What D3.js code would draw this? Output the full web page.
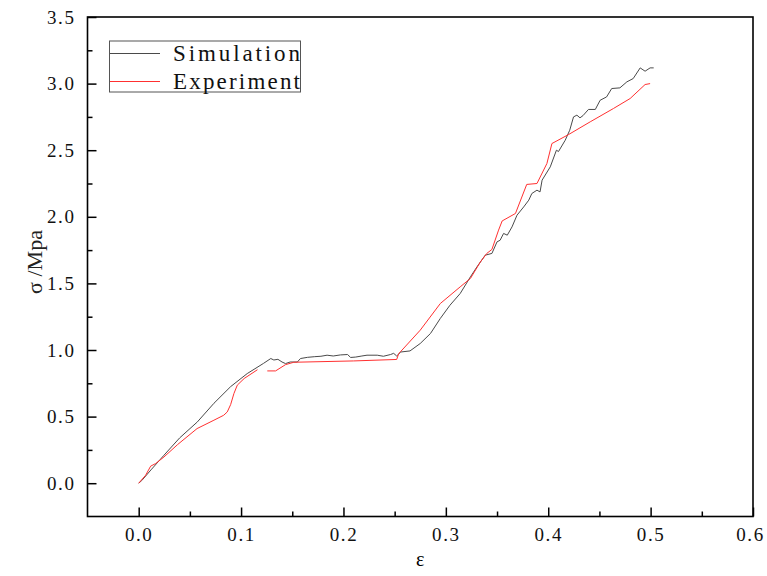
<!DOCTYPE html>
<html>
<head>
<meta charset="utf-8">
<script src="https://cdn.jsdelivr.net/npm/d3@7"></script>
<style>
  body { margin: 0; background: #fff; }
  svg { display: block; }
  .tick text { font-family: "Liberation Serif", serif; font-size: 19px; fill: #111; letter-spacing: 1.6px; }
</style>
</head>
<body>
<svg id="chart" width="767" height="576"></svg>
<script>
// Simulation curve (black)
const simX = [0, 0.003, 0.012, 0.0247, 0.04, 0.0573, 0.0735, 0.0898, 0.106, 0.122, 0.129, 0.132, 0.136, 0.14, 0.1434, 0.148, 0.155, 0.158, 0.165, 0.172, 0.178, 0.184, 0.19, 0.197, 0.204, 0.207, 0.212, 0.218, 0.223, 0.233, 0.239, 0.246, 0.249, 0.252, 0.256, 0.265, 0.275, 0.285, 0.2946, 0.304, 0.314, 0.324, 0.3304, 0.3385, 0.345, 0.35, 0.353, 0.3564, 0.36, 0.3646, 0.3695, 0.376, 0.381, 0.384, 0.389, 0.392, 0.394, 0.402, 0.408, 0.41, 0.4166, 0.421, 0.4247, 0.428, 0.431, 0.434, 0.4393, 0.446, 0.4507, 0.457, 0.462, 0.47, 0.4768, 0.483, 0.4898, 0.4946, 0.4995, 0.503];
const simY = [0, 0.02, 0.1, 0.21, 0.34, 0.46, 0.6, 0.725, 0.823, 0.9, 0.936, 0.925, 0.93, 0.91, 0.898, 0.91, 0.91, 0.936, 0.945, 0.95, 0.953, 0.961, 0.955, 0.963, 0.966, 0.944, 0.947, 0.955, 0.961, 0.961, 0.953, 0.966, 0.975, 0.955, 0.985, 0.993, 1.049, 1.124, 1.237, 1.336, 1.424, 1.549, 1.624, 1.712, 1.725, 1.812, 1.824, 1.875, 1.862, 1.924, 2.012, 2.074, 2.125, 2.175, 2.2, 2.187, 2.275, 2.375, 2.5, 2.49, 2.575, 2.65, 2.75, 2.763, 2.743, 2.76, 2.806, 2.806, 2.875, 2.9, 2.963, 2.968, 3.013, 3.038, 3.118, 3.093, 3.118, 3.118];

// Experiment curve (red), null = gap in the trace
const expX = [0, 0.0068, 0.0117, 0.0166, 0.0247, 0.038, 0.057, 0.0735, 0.083, 0.0865, 0.0898, 0.093, 0.0963, 0.103, 0.116, 0.12, 0.1256, 0.1337, 0.1434, 0.1515, 0.21, 0.252, 0.254, 0.2556, 0.275, 0.2946, 0.314, 0.324, 0.3337, 0.34, 0.345, 0.3515, 0.355, 0.368, 0.379, 0.389, 0.3987, 0.4036, 0.42, 0.441, 0.4637, 0.48, 0.4946, 0.4995];
const expY = [0, 0.06, 0.128, 0.148, 0.197, 0.29, 0.41, 0.473, 0.51, 0.535, 0.59, 0.673, 0.736, 0.786, 0.852, null, 0.843, 0.843, 0.89, 0.908, 0.918, 0.929, 0.974, 0.986, 1.149, 1.349, 1.474, 1.537, 1.661, 1.725, 1.755, 1.9, 1.969, 2.025, 2.243, 2.25, 2.4, 2.55, 2.618, 2.713, 2.813, 2.888, 2.993, 3.0];

const xTicks = [0, 0.1, 0.2, 0.3, 0.4, 0.5, 0.6];
const yTicks = [0, 0.5, 1.0, 1.5, 2.0, 2.5, 3.0, 3.5];
const seriesNames = ["Simulation", "Experiment"];
const seriesColors = ["#4a4a4a", "#ff3030"];

const width = 767, height = 576;
const margin = { left: 87.5, right: 14, top: 17, bottom: 59.5 };

const svg = d3.select("#chart");

const x = d3.scaleLinear().domain([-0.05, 0.6]).range([margin.left, width - margin.right]);
const y = d3.scaleLinear().domain([-0.25, 3.5]).range([height - margin.bottom, margin.top]);

// minor ticks (inward, short)
const xMinor = [0.05, 0.15, 0.25, 0.35, 0.45, 0.55];
const yMinor = [0.25, 0.75, 1.25, 1.75, 2.25, 2.75, 3.25];

svg.append("g")
    .attr("transform", `translate(0,${height - margin.bottom})`)
    .call(d3.axisBottom(x).tickValues(xMinor).tickSize(-5).tickFormat(""))
    .call(g => g.select(".domain").remove());
svg.append("g")
    .attr("transform", `translate(${margin.left},0)`)
    .call(d3.axisLeft(y).tickValues(yMinor).tickSize(-5).tickFormat(""))
    .call(g => g.select(".domain").remove());

// major ticks
const xAxis = svg.append("g")
    .attr("transform", `translate(0,${height - margin.bottom})`)
    .call(d3.axisBottom(x).tickValues(xTicks).tickSize(-9).tickPadding(11).tickFormat(d3.format(".1f")))
    .call(g => g.select(".domain").remove());
// last label sits at the very edge of the page: nudge it in a little
xAxis.selectAll(".tick text").filter(d => d === 0.6).attr("dx", -3);

svg.append("g")
    .attr("transform", `translate(${margin.left},0)`)
    .call(d3.axisLeft(y).tickValues(yTicks).tickSize(-9).tickPadding(12).tickFormat(d3.format(".1f")))
    .call(g => g.select(".domain").remove());

svg.selectAll(".tick line").attr("stroke", "#000").attr("stroke-width", 1.5);

// frame
svg.append("rect")
    .attr("x", margin.left).attr("y", margin.top)
    .attr("width", width - margin.left - margin.right)
    .attr("height", height - margin.top - margin.bottom)
    .attr("fill", "none").attr("stroke", "#000").attr("stroke-width", 1.6);

// curves
const line = d3.line()
    .defined(d => d[1] !== null)
    .x(d => x(d[0]))
    .y(d => y(d[1]));

const simData = simX.map((v, i) => [v, simY[i]]);
const expData = expX.map((v, i) => [v, expY[i]]);

svg.append("path").datum(simData)
    .attr("d", line).attr("fill", "none")
    .attr("stroke", seriesColors[0]).attr("stroke-width", 1);
svg.append("path").datum(expData)
    .attr("d", line).attr("fill", "none")
    .attr("stroke", seriesColors[1]).attr("stroke-width", 1);

// axis titles
svg.append("text")
    .attr("x", (margin.left + width - margin.right) / 2).attr("y", 566)
    .attr("text-anchor", "middle")
    .style("font-family", "Liberation Serif, serif").style("font-size", "20px")
    .text("ε");
svg.append("text")
    .attr("transform", "translate(42,262) rotate(-90)")
    .attr("text-anchor", "middle")
    .style("font-family", "Liberation Serif, serif").style("font-size", "22px")
    .style("fill", "#222")
    .text("σ /Mpa");

// legend
const legend = svg.append("g");
legend.append("rect")
    .attr("x", 109.5).attr("y", 41).attr("width", 191).attr("height", 51)
    .attr("fill", "#fff").attr("stroke", "#555").attr("stroke-width", 1);
seriesNames.forEach((name, i) => {
    const ly = 53.5 + i * 28;
    legend.append("line")
        .attr("x1", 110).attr("x2", 160).attr("y1", ly).attr("y2", ly)
        .attr("stroke", seriesColors[i]).attr("stroke-width", 1);
    legend.append("text")
        .attr("x", 173).attr("y", ly + 7.5)
        .attr("textLength", 127)
        .attr("lengthAdjust", "spacing")
        .style("font-family", "Liberation Serif, serif").style("font-size", "23px")
        .style("fill", "#111")
        .text(name);
});
</script>
</body>
</html>
